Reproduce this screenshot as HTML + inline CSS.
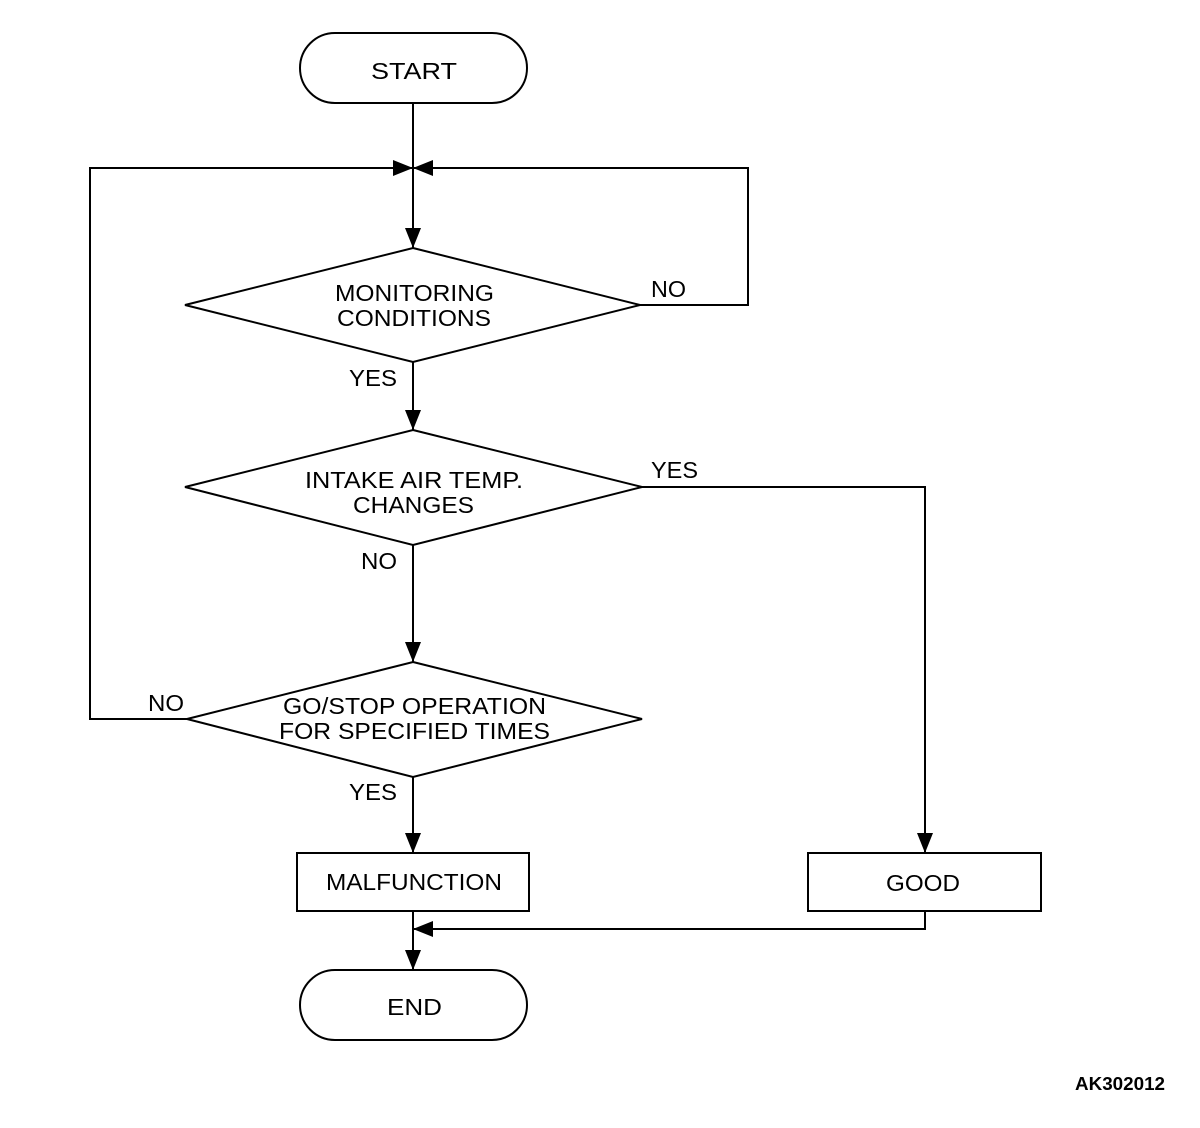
<!DOCTYPE html>
<html><head><meta charset="utf-8"><style>
html,body{margin:0;padding:0;background:#fff;}
svg{display:block;}
text{font-family:"Liberation Sans",sans-serif;font-size:23px;fill:#000;}
</style></head><body>
<svg width="1200" height="1128" viewBox="0 0 1200 1128" xmlns="http://www.w3.org/2000/svg">
<g fill="none" stroke="#000" stroke-width="2">
<rect x="300" y="33" width="227" height="70" rx="35" ry="35"/>
<rect x="300" y="970" width="227" height="70" rx="35" ry="35"/>
<rect x="297" y="853" width="232" height="58"/>
<rect x="808" y="853" width="233" height="58"/>
<polygon points="413,248 640,305 413,362 185,305"/>
<polygon points="413,430 642,487 413,545 185,487"/>
<polygon points="413,662 642,719 413,777 187,719"/>
<polyline points="413,103 413,248"/>
<polyline points="640,305 748,305 748,168 413,168"/>
<polyline points="187,719 90,719 90,168 413,168"/>
<polyline points="413,362 413,430"/>
<polyline points="413,545 413,662"/>
<polyline points="413,777 413,853"/>
<polyline points="642,487 925,487 925,853"/>
<polyline points="413,911 413,970"/>
<polyline points="925,911 925,929 413,929"/>
</g>
<g fill="#000">
<polygon points="413,168 393,160 393,176"/>
<polygon points="413,168 433,160 433,176"/>
<polygon points="413,248 405,228 421,228"/>
<polygon points="413,430 405,410 421,410"/>
<polygon points="413,662 405,642 421,642"/>
<polygon points="413,853 405,833 421,833"/>
<polygon points="925,853 917,833 933,833"/>
<polygon points="413,970 405,950 421,950"/>
<polygon points="413,929 433,921 433,937"/>
</g>
<text x="371" y="79" textLength="86" lengthAdjust="spacingAndGlyphs">START</text>
<text x="335" y="301" textLength="159" lengthAdjust="spacingAndGlyphs">MONITORING</text>
<text x="337" y="326" textLength="154" lengthAdjust="spacingAndGlyphs">CONDITIONS</text>
<text x="651" y="297" textLength="35" lengthAdjust="spacingAndGlyphs">NO</text>
<text x="349" y="386" textLength="48" lengthAdjust="spacingAndGlyphs">YES</text>
<text x="305" y="488" textLength="218" lengthAdjust="spacingAndGlyphs">INTAKE AIR TEMP.</text>
<text x="353" y="513" textLength="121" lengthAdjust="spacingAndGlyphs">CHANGES</text>
<text x="651" y="478" textLength="47" lengthAdjust="spacingAndGlyphs">YES</text>
<text x="361" y="569" textLength="36" lengthAdjust="spacingAndGlyphs">NO</text>
<text x="283" y="714" textLength="263" lengthAdjust="spacingAndGlyphs">GO/STOP OPERATION</text>
<text x="279" y="739" textLength="271" lengthAdjust="spacingAndGlyphs">FOR SPECIFIED TIMES</text>
<text x="148" y="711" textLength="36" lengthAdjust="spacingAndGlyphs">NO</text>
<text x="349" y="800" textLength="48" lengthAdjust="spacingAndGlyphs">YES</text>
<text x="326" y="890" textLength="176" lengthAdjust="spacingAndGlyphs">MALFUNCTION</text>
<text x="886" y="891" textLength="74" lengthAdjust="spacingAndGlyphs">GOOD</text>
<text x="387" y="1015" textLength="55" lengthAdjust="spacingAndGlyphs">END</text>
<text x="1075" y="1090" style="font-size:18px;font-weight:bold" textLength="90" lengthAdjust="spacingAndGlyphs">AK302012</text>
</svg>
</body></html>
